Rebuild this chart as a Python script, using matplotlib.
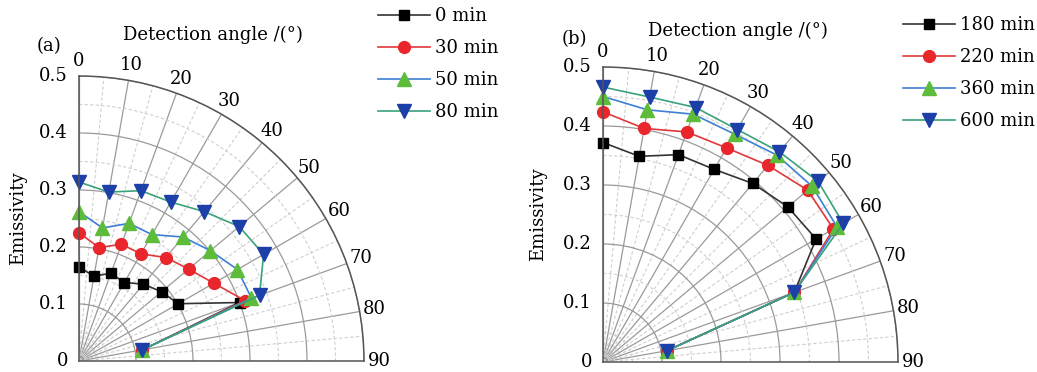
import matplotlib
matplotlib.use("Agg")
import matplotlib.pyplot as plt
import numpy as np

plt.rcParams["font.family"] = ["DejaVu Serif"]

angles = [0, 10, 20, 30, 40, 50, 60, 70, 80]

# panel (a)
labels_a = ["0 min", "30 min", "50 min", "80 min"]
em_0 = [0.165, 0.151, 0.164, 0.159, 0.176, 0.189, 0.201, 0.300, 0.113]
em_30 = [0.225, 0.202, 0.218, 0.217, 0.237, 0.251, 0.273, 0.310, 0.113]
em_50 = [0.262, 0.237, 0.257, 0.256, 0.284, 0.301, 0.321, 0.322, 0.113]
em_80 = [0.314, 0.301, 0.318, 0.322, 0.342, 0.367, 0.374, 0.337, 0.113]

# panel (b)
labels_b = ["180 min", "220 min", "360 min", "600 min"]
em_180 = [0.372, 0.354, 0.374, 0.377, 0.395, 0.409, 0.417, 0.345, 0.110]
em_220 = [0.424, 0.402, 0.415, 0.419, 0.435, 0.453, 0.451, 0.345, 0.110]
em_360 = [0.450, 0.434, 0.447, 0.446, 0.458, 0.463, 0.458, 0.345, 0.110]
em_600 = [0.466, 0.456, 0.459, 0.455, 0.465, 0.476, 0.470, 0.345, 0.110]

styles = [
    dict(color="#333333", marker="s", mfc="#000000", mec="#000000", ms=7.5),
    dict(color="#e0383c", marker="o", mfc="#e8262b", mec="#e8262b", ms=8.5),
    dict(color="#3d7fd6", marker="^", mfc="#5dbd3a", mec="#5dbd3a", ms=9.5),
    dict(color="#3aa27a", marker="v", mfc="#1c3fa8", mec="#1c3fa8", ms=9.5),
]

W, H = 1037, 372


def ptext(fig, x, y, s, **kw):
    # place text at pixel position (from top-left)
    fig.text(x / W, 1 - y / H, s, ha="center", va="center", fontsize=13, **kw)


def polar_panel(fig, box, series, labels, leg_xy):
    x0, y0, size = box
    ax = fig.add_axes([x0 / W, (H - y0) / H, size / W, size / H], projection="polar")
    ax.set_theta_zero_location("N")
    ax.set_theta_direction(-1)
    ax.set_thetamin(0)
    ax.set_thetamax(90)
    ax.set_rlim(0, 0.5)

    th = np.deg2rad(angles)
    for vals, lab, st in zip(series, labels, styles):
        ax.plot(th, vals, lw=1.2, label=lab, clip_on=False, **st)

    ax.set_xticks(np.deg2rad(np.arange(0, 91, 10)))
    ax.set_xticklabels([str(a) for a in range(0, 91, 10)])
    ax.set_xticks(np.deg2rad(np.arange(5, 90, 10)), minor=True)
    ax.set_yticks([0, 0.1, 0.2, 0.3, 0.4, 0.5])
    ax.set_yticklabels(["0", "0.1", "0.2", "0.3", "0.4", "0.5"])
    ax.set_yticks(np.arange(0.05, 0.5, 0.1), minor=True)

    ax.grid(True, which="major", color="#9a9a9a", lw=0.9, ls="-")
    ax.grid(True, which="minor", color="#cfcfcf", lw=0.8, ls=(0, (3, 2)))
    ax.tick_params(axis="x", which="major", direction="in", length=5, pad=4,
                   color="#555555", labelsize=13)
    ax.tick_params(axis="x", which="minor", direction="in", length=3, color="#555555")
    ax.tick_params(axis="y", which="major", direction="out", length=7, pad=1,
                   color="#555555", labelsize=13)
    ax.tick_params(axis="y", which="minor", length=0)
    for sp in ax.spines.values():
        sp.set_color("#555555")
        sp.set_linewidth(1.1)

    ax.legend(loc="upper left", bbox_to_anchor=(leg_xy[0] / W, 1 - leg_xy[1] / H),
              bbox_transform=fig.transFigure, frameon=False, fontsize=13,
              handlelength=2.9, handletextpad=0.25, labelspacing=0.78, borderpad=0,
              borderaxespad=0)
    return ax


fig = plt.figure(figsize=(W / 100, H / 100), dpi=100)
polar_panel(fig, (79, 361, 285), [em_0, em_30, em_50, em_80], labels_a, (378, 7))
polar_panel(fig, (603, 362, 295), [em_180, em_220, em_360, em_600], labels_b, (903, 16))

ptext(fig, 213, 35, "Detection angle /(°)")
ptext(fig, 738, 31, "Detection angle /(°)")
ptext(fig, 18, 218, "Emissivity", rotation=90)
ptext(fig, 538, 214, "Emissivity", rotation=90)
ptext(fig, 49, 46, "(a)")
ptext(fig, 574, 39, "(b)")

fig.savefig("out.png", dpi=100)
